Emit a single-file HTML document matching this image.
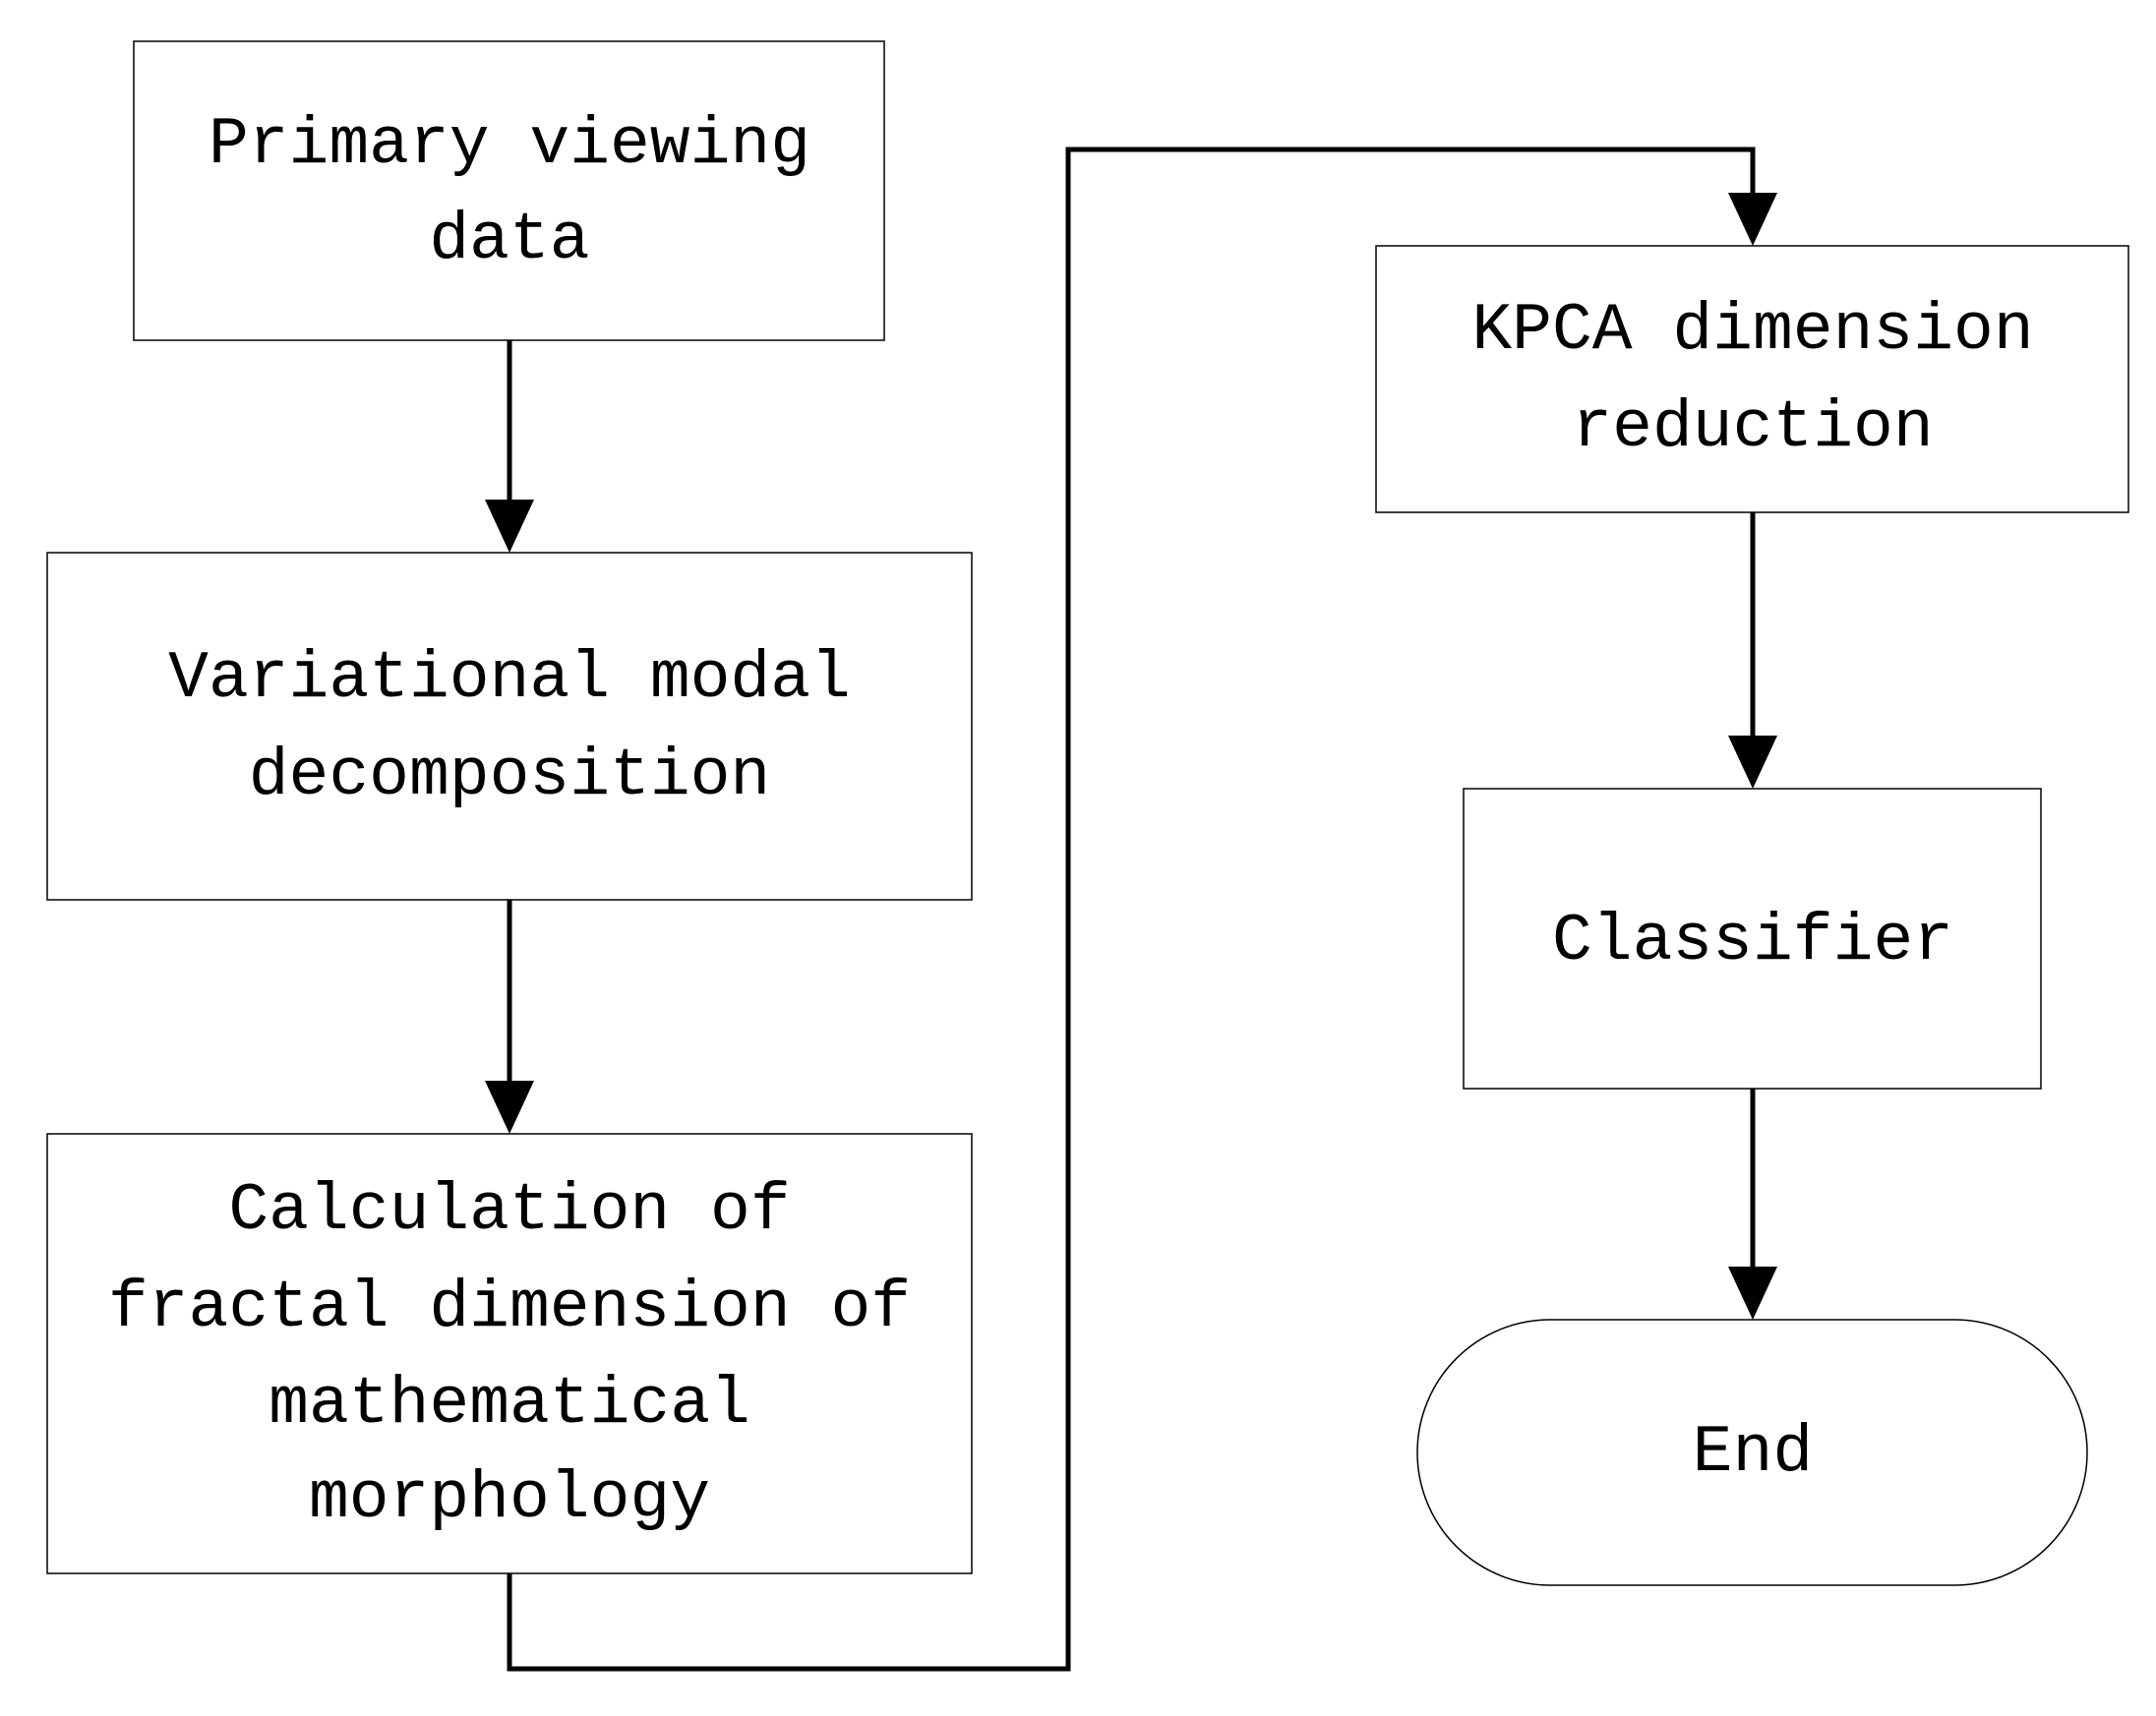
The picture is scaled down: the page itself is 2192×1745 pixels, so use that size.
<!DOCTYPE html>
<html><head><meta charset="utf-8"><style>html,body{margin:0;padding:0;background:#fff}</style></head>
<body>
<svg width="2192" height="1740" viewBox="0 0 2192 1740" xmlns="http://www.w3.org/2000/svg">
<g fill="#fff" stroke="#000" stroke-width="1.5">
<rect x="136" y="42" width="763" height="304"/>
<rect x="48" y="562" width="940" height="353"/>
<rect x="48" y="1153" width="940" height="447"/>
<rect x="1399" y="250" width="765" height="271"/>
<rect x="1488" y="802" width="587" height="305"/>
<rect x="1441" y="1342" width="681" height="270" rx="135" ry="135"/>
</g>
<g stroke="#000" stroke-width="5" fill="none">
<line x1="518" y1="346" x2="518" y2="510"/>
<line x1="518" y1="915" x2="518" y2="1100"/>
<polyline points="518,1600 518,1697 1086,1697 1086,152 1782,152 1782,198"/>
<line x1="1782" y1="521" x2="1782" y2="750"/>
<line x1="1782" y1="1107" x2="1782" y2="1290"/>
</g>
<g fill="#000">
<polygon points="493,508 543,508 518,562"/>
<polygon points="493,1099 543,1099 518,1153"/>
<polygon points="1757,196 1807,196 1782,250"/>
<polygon points="1757,748 1807,748 1782,802"/>
<polygon points="1757,1288 1807,1288 1782,1342"/>
</g>
<g font-family="Liberation Mono, monospace" font-size="68" text-anchor="middle" fill="#000">
<text x="518" y="165">Primary viewing</text>
<text x="518" y="262">data</text>
<text x="518" y="708">Variational modal</text>
<text x="518" y="807">decomposition</text>
<text x="518" y="1249">Calculation of</text>
<text x="518" y="1348">fractal dimension of</text>
<text x="518" y="1446">mathematical</text>
<text x="518" y="1542">morphology</text>
<text x="1782" y="354">KPCA dimension</text>
<text x="1782" y="453">reduction</text>
<text x="1782" y="975">Classifier</text>
<text x="1782" y="1495">End</text>
</g>
</svg>
</body></html>
